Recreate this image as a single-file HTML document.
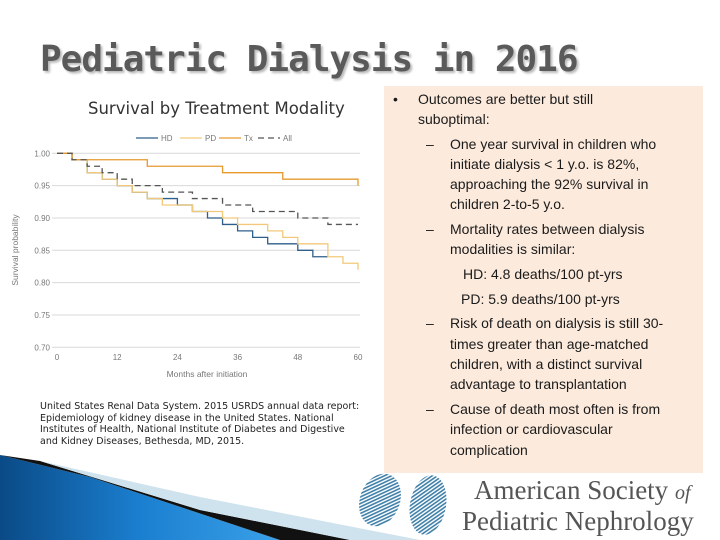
<!DOCTYPE html>
<html><head><meta charset="utf-8"><style>
body{margin:0;width:720px;height:540px;background:#fff;position:relative;overflow:hidden;font-family:"Liberation Sans",sans-serif}
.a{position:absolute;white-space:nowrap}
.t{font-size:14px;color:#1a1a1a;line-height:20px}
</style></head><body>
<div class="a" style="left:40px;top:39px;font-family:'DejaVu Sans Mono','DejaVu Sans',sans-serif;font-weight:bold;font-size:36px;letter-spacing:-1px;color:#5a5a5a;text-shadow:2px 2px 2px #bbb">Pediatric Dialysis in 2016</div>
<div class="a" style="left:88px;top:99px;font-family:'DejaVu Sans',sans-serif;font-size:16.5px;color:#333">Survival by Treatment Modality</div>
<svg class="a" style="left:0;top:125px" width="375" height="260" id="ch"></svg>
<div class="a" style="left:40px;top:401px;font-family:'DejaVu Sans',sans-serif;font-size:9.5px;line-height:11.6px;color:#222">United States Renal Data System. 2015 USRDS annual data report:<br>Epidemiology of kidney disease in the United States. National<br>Institutes of Health, National Institute of Diabetes and Digestive<br>and Kidney Diseases, Bethesda, MD, 2015.</div>
<div class="a" style="left:384px;top:86px;width:319px;height:387px;background:#fcebdd"></div>
<div class="a t" style="left:0;top:0">
<span class="a" style="left:393px;top:89px">•</span>
<span class="a" style="left:418px;top:89px">Outcomes are better but still</span>
<span class="a" style="left:418px;top:109px">suboptimal:</span>
<span class="a" style="left:426px;top:134px">–</span><span class="a" style="left:450px;top:134px">One year survival in children who</span>
<span class="a" style="left:450px;top:154px">initiate dialysis &lt; 1 y.o. is 82%,</span>
<span class="a" style="left:450px;top:174px">approaching the 92% survival in</span>
<span class="a" style="left:450px;top:194px">children 2-to-5 y.o.</span>
<span class="a" style="left:426px;top:219px">–</span><span class="a" style="left:450px;top:219px">Mortality rates between dialysis</span>
<span class="a" style="left:450px;top:239px">modalities is similar:</span>
<span class="a" style="left:463px;top:264px">HD: 4.8 deaths/100 pt-yrs</span>
<span class="a" style="left:461px;top:289px">PD: 5.9 deaths/100 pt-yrs</span>
<span class="a" style="left:426px;top:313px">–</span><span class="a" style="left:450px;top:313px">Risk of death on dialysis is still 30-</span>
<span class="a" style="left:450px;top:334px">times greater than age-matched</span>
<span class="a" style="left:450px;top:354px">children, with a distinct survival</span>
<span class="a" style="left:450px;top:374px">advantage to transplantation</span>
<span class="a" style="left:426px;top:399px">–</span><span class="a" style="left:450px;top:399px">Cause of death most often is from</span>
<span class="a" style="left:450px;top:419px">infection or cardiovascular</span>
<span class="a" style="left:450px;top:440px">complication</span>
</div>
<svg class="a" style="left:0;top:455px" width="440" height="85">
<defs><linearGradient id="g" x1="0" y1="0" x2="1" y2="0"><stop offset="0" stop-color="#0a4a86"/><stop offset="0.5" stop-color="#1b7fd0"/><stop offset="1" stop-color="#3aa0e8"/></linearGradient></defs>
<polygon points="0,0 90,22 280,85 0,85" fill="url(#g)"/>
<polygon points="0,0 40,6 200,55 350,85 280,85 90,22" fill="#111"/>
<polygon points="40,6 200,42 420,85 350,85 200,55" fill="#cfe3ee"/>
</svg>
<svg class="a" style="left:355px;top:470px" width="120" height="70">
<defs><pattern id="h" width="3" height="3" patternUnits="userSpaceOnUse" patternTransform="rotate(45)"><rect width="1.6" height="3" fill="#3f7fa8"/></pattern></defs>
<ellipse cx="25" cy="30" rx="20" ry="27" fill="url(#h)" transform="rotate(20 25 30)"/>
<ellipse cx="73" cy="35" rx="18" ry="30" fill="url(#h)" transform="rotate(10 73 35)"/>
</svg>
<div class="a" style="left:462px;top:476px;font-family:'Liberation Serif',serif;font-size:27px;line-height:28px;color:#555"><span style="margin-left:12px">American Society <i style="font-size:20px">of</i></span><br>Pediatric Nephrology</div>
<script>
const months=[0,3,6,9,12,15,18,21,24,27,30,33,36,39,42,45,48,51,54,57,60];
const hdVals=[1,.99,.97,.96,.95,.94,.93,.93,.92,.91,.90,.89,.88,.87,.86,.86,.85,.84,.84,null,null];
const pdVals=[1,.99,.97,.96,.95,.94,.93,.92,.92,.91,.91,.90,.89,.89,.88,.87,.86,.86,.84,.83,.82];
const txVals=[1,.99,.99,.99,.99,.99,.98,.98,.98,.98,.98,.97,.97,.97,.97,.96,.96,.96,.96,.96,.95];
const allVals=[1,.99,.98,.97,.96,.95,.95,.94,.94,.93,.93,.92,.92,.91,.91,.91,.90,.90,.89,.89,.89];
const yTicks=[1.00,0.95,0.90,0.85,0.80,0.75,0.70];
const xTicks=[0,12,24,36,48,60];
const seriesNames=["HD","PD","Tx","All"];
const NS="http://www.w3.org/2000/svg",svg=document.getElementById('ch');
const X=m=>57+m*(301/60), Y=v=>28.3+(1-v)*(194/0.30);
function el(t,a,p){const e=document.createElementNS(NS,t);for(const k in a)e.setAttribute(k,a[k]);(p||svg).appendChild(e);return e;}
yTicks.forEach(v=>{
 const g=el('line',{x1:52,x2:360,y1:Y(v),y2:Y(v),stroke:'#d9d9d9','stroke-width':1});
 
 
 const t=el('text',{x:50,y:Y(v)+3,'text-anchor':'end','font-size':8,fill:'#777'});t.textContent=v.toFixed(2);
 
 
});
xTicks.forEach(m=>{
 const t=el('text',{x:X(m),y:235,'text-anchor':'middle','font-size':8,fill:'#777'});t.textContent=m;
 
 
});
let t=el('text',{x:207,y:252,'text-anchor':'middle','font-size':8.5,fill:'#777'});t.textContent='Months after initiation';


t=el('text',{x:0,y:0,'text-anchor':'middle','font-size':8.5,fill:'#777'});
t.setAttribute('transform','translate(18,125) rotate(-90)');t.textContent='Survival probability';


const cols=['#2e5f8a','#f2c97a','#e69a2e','#555'],dash=['','','','6,4'],sets=[hdVals,pdVals,txVals,allVals];
sets.forEach((vals,i)=>{
 let d='';
 for(let k=0;k<months.length;k++){
  if(vals[k]==null)break;
  if(k===0)d+='M'+X(months[0])+','+Y(vals[0]);
  else d+='H'+X(months[k])+'V'+Y(vals[k]);
 }
 const p=el('path',{d:d,fill:'none',stroke:cols[i],'stroke-width':1.3,'stroke-dasharray':dash[i]});
 
 
});
const lx=[136,180,219,258];
seriesNames.forEach((n,i)=>{
 const l=el('line',{x1:lx[i],x2:lx[i]+22,y1:13,y2:13,stroke:cols[i],'stroke-width':1.3,'stroke-dasharray':dash[i]});
 
 
 const tt=el('text',{x:lx[i]+25,y:16,'font-size':8,fill:'#777'});tt.textContent=n;
 
 
});
</script>
</body></html>
